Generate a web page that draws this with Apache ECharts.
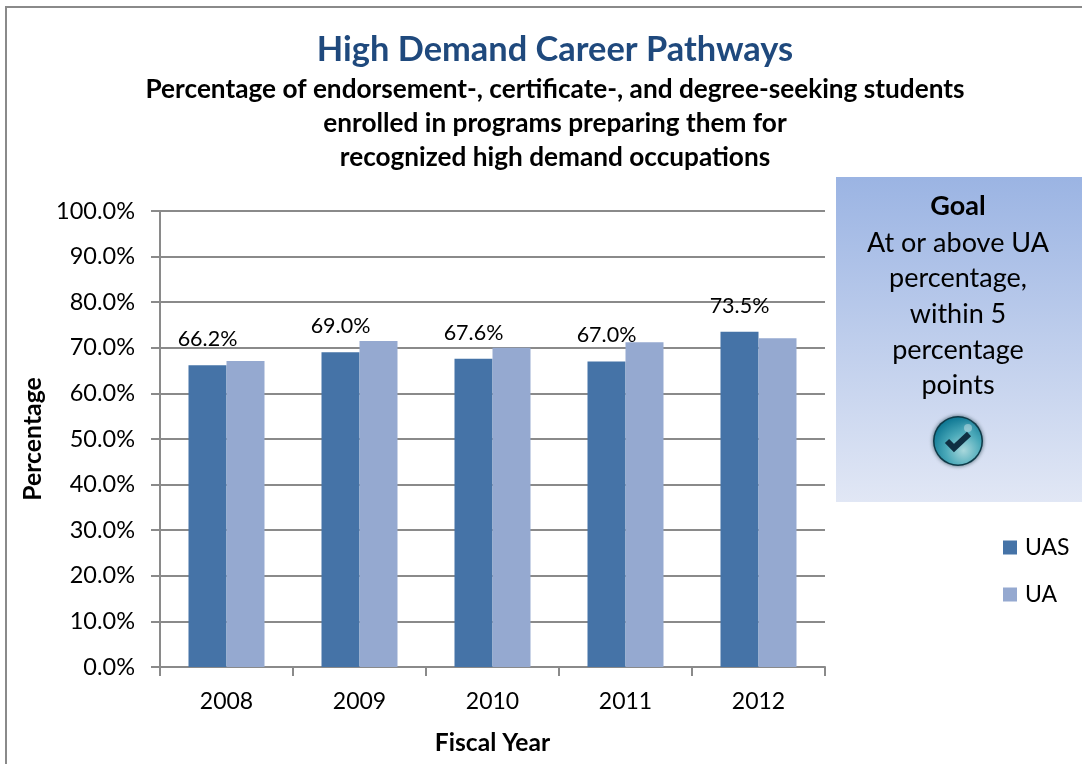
<!DOCTYPE html>
<html>
<head>
<meta charset="utf-8">
<style>html,body{margin:0;padding:0;background:#fff}#c{width:1082px;height:764px}</style>
<script src="https://cdn.jsdelivr.net/npm/echarts@6/dist/echarts.min.js"></script>
</head>
<body>
<div id="c"></div>
<script>
const categories = ['2008','2009','2010','2011','2012'];
const uasValues = [66.2,69.0,67.6,67.0,73.5];
const uaValues = [67.1,71.5,70.0,71.2,72.1];
const titleText = 'High Demand Career Pathways';
const subtitleLines = ['Percentage of endorsement-, certificate-, and degree-seeking students','enrolled in programs preparing them for','recognized high demand occupations'];
const goalHead = 'Goal';
const goalLines = ['At or above UA','percentage,','within 5','percentage','points'];
const FONT = 'Lato, Carlito, sans-serif';
const GRAY = '#8a8a8a';
const chart = echarts.init(document.getElementById('c'), null, {renderer:'canvas'});
chart.setOption({
  animation:false,
  backgroundColor:'#fff',
  textStyle:{fontFamily:FONT},
  title:[
    {text:titleText,left:550,top:26,textAlign:'center',textStyle:{fontFamily:FONT,fontSize:34.4,fontWeight:'bold',color:'#1f497d',lineHeight:38}},
    {text:subtitleLines.join('\n'),left:550,top:68,textAlign:'center',textStyle:{fontFamily:FONT,fontSize:26.2,fontWeight:'bold',color:'#000',lineHeight:34}}
  ],
  legend:{orient:'vertical',left:998,top:531,itemWidth:14,itemHeight:14,itemGap:24,icon:'rect',
    textStyle:{fontFamily:FONT,fontSize:23,color:'#000',padding:[0,0,0,3]},data:['UAS','UA']},
  grid:{left:160,right:257,top:211,bottom:97,containLabel:false},
  xAxis:{type:'category',data:categories,name:'Fiscal Year',nameLocation:'middle',nameGap:64,
    nameTextStyle:{fontFamily:FONT,fontSize:24.6,fontWeight:'bold',color:'#000'},
    axisLine:{lineStyle:{color:GRAY,width:2}},
    axisTick:{show:true,length:9,lineStyle:{color:GRAY,width:2},alignWithLabel:false},
    axisLabel:{fontFamily:FONT,fontSize:23,color:'#000',margin:23,interval:0}},
  yAxis:{type:'value',min:0,max:100,interval:10,name:'Percentage',nameLocation:'middle',nameGap:114,nameRotate:90,
    nameTextStyle:{fontFamily:FONT,fontSize:24.8,fontWeight:'bold',color:'#000'},
    axisLine:{show:true,lineStyle:{color:GRAY,width:2}},
    axisTick:{show:true,length:9,lineStyle:{color:GRAY,width:2}},
    axisLabel:{fontFamily:FONT,fontSize:23.5,color:'#000',margin:25,formatter:v=>v.toFixed(1)+'%'},
    splitLine:{show:true,lineStyle:{color:GRAY,width:2}}},
  series:[
    {name:'UAS',type:'bar',data:uasValues,barWidth:38,barGap:'0%',
     itemStyle:{color:'#4573a7'},
     label:{show:true,position:'top',distance:15,fontFamily:FONT,fontSize:21.5,color:'#000',formatter:p=>p.value.toFixed(1)+'%'}},
    {name:'UA',type:'bar',data:uaValues,barWidth:38,
     itemStyle:{color:'#95a9d0'}}
  ],
  graphic:[
    {type:'rect',z:-1,shape:{x:6,y:7,width:1090,height:780},style:{fill:'none',stroke:GRAY,lineWidth:2}},
    {type:'rect',z:1,shape:{x:836,y:177,width:246,height:325},
      style:{fill:new echarts.graphic.LinearGradient(0,0,0,1,[{offset:0,color:'#9bb4e3'},{offset:1,color:'#e1e7f5'}])}},
    {type:'text',z:2,x:958,y:206,style:{text:goalHead,fontFamily:FONT,fontSize:27,fontWeight:'bold',fill:'#000',align:'center',verticalAlign:'middle'}},
    ...goalLines.map((t,i)=>({type:'text',z:2,x:958,y:243+i*35.6,style:{text:t,fontFamily:FONT,fontSize:27,fill:'#000',align:'center',verticalAlign:'middle'}})),
    {type:'circle',z:2,shape:{cx:958,cy:441,r:25},style:{fill:'#0d3a48',shadowBlur:4,shadowColor:'rgba(10,40,50,0.7)'}},
    {type:'circle',z:3,shape:{cx:958,cy:441,r:23.5},
      style:{fill:new echarts.graphic.RadialGradient(0.62,0.7,0.75,[{offset:0,color:'#a9d8dc'},{offset:0.5,color:'#4aa9b9'},{offset:1,color:'#0a7491'}])}},
    {type:'circle',z:4,shape:{cx:968,cy:428,r:4},style:{fill:'rgba(255,255,255,0.35)',shadowBlur:6,shadowColor:'rgba(255,255,255,0.7)'}},
    {type:'polyline',z:5,shape:{points:[[947,441],[954,448],[969,434]]},style:{fill:'none',stroke:'#0f2f42',lineWidth:6}}
  ]
});
</script>
</body>
</html>
